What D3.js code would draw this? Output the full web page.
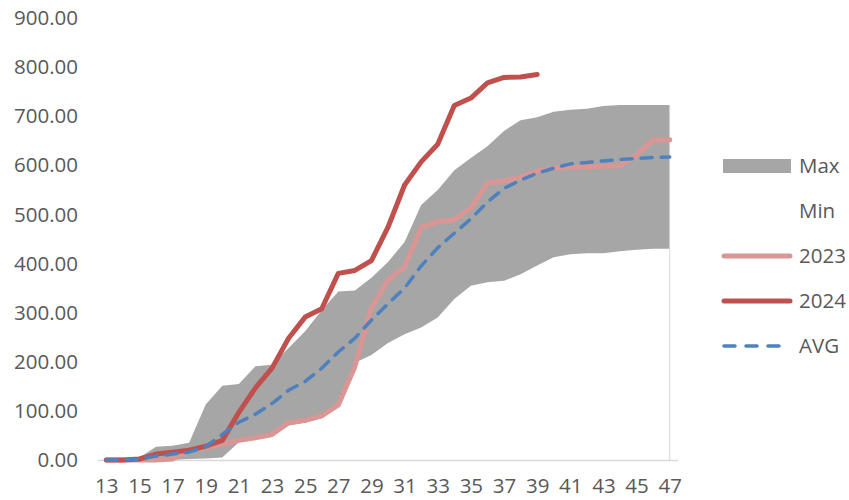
<!DOCTYPE html>
<html>
<head>
<meta charset="utf-8">
<script src="https://cdn.jsdelivr.net/npm/d3@7"></script>
<style>
  html, body { margin: 0; padding: 0; background: #fff; }
  svg { display: block; }
  text { font-family: "Open Sans", "Liberation Sans", sans-serif; fill: #595959; }
</style>
</head>
<body>
<svg id="chart" width="849" height="500"></svg>
<script>
// Weekly cumulative values, weeks 13–47
const weeks = d3.range(13, 48);

const maxValues = [0, 0, 5, 27, 29, 35, 113, 151, 155, 191, 194, 228, 262, 305, 343, 345, 371, 403, 444, 519, 550, 590, 615, 639, 670, 692, 698, 709, 713, 715, 721, 723, 723, 723, 723];
const minValues = [0, 0, 0, 0, 0, 2, 3, 5, 36, 42, 48, 70, 76, 85, 108, 198, 214, 238, 256, 270, 290, 328, 355, 362, 365, 378, 396, 413, 419, 421, 421, 425, 428, 430, 430];
const values2023 = [0, 0, 0, 0, 2, 20, 25, 32, 40, 45, 52, 76, 81, 90, 112, 190, 310, 366, 393, 474, 485, 489, 513, 564, 568, 576, 588, 594, 596, 597, 598, 599, 621, 652, 652];
const values2024 = [0, 0, 2, 12, 16, 20, 28, 40, 97, 147, 187, 248, 291, 308, 380, 386, 406, 474, 560, 607, 643, 722, 737, 768, 779, 780, 785];
const avgValues = [0, 0, 2, 8, 12, 16, 27, 52, 77, 93, 115, 142, 160, 187, 220, 248, 285, 318, 350, 395, 432, 462, 491, 525, 553, 570, 584, 594, 603, 606, 609, 612, 614, 616, 617];

const yTicks = [0, 100, 200, 300, 400, 500, 600, 700, 800, 900];
const xTickWeeks = weeks.filter(w => (w - 13) % 2 === 0);

const svg = d3.select("#chart");

const x = d3.scalePoint().domain(weeks).range([98, 678]).padding(0.5);
const y = d3.scaleLinear().domain([0, 900]).range([460, 18]);

// Min–Max envelope
const band = weeks.map((w, i) => ({ w, lo: minValues[i], hi: maxValues[i] }));
svg.append("path")
  .datum(band)
  .attr("fill", "#a6a6a6")
  .attr("d", d3.area().x(d => x(d.w)).y0(d => y(d.lo)).y1(d => y(d.hi)));

// Right edge marker of the envelope
const lastW = weeks[weeks.length - 1];
svg.append("line")
  .attr("x1", x(lastW)).attr("x2", x(lastW))
  .attr("y1", y(maxValues[maxValues.length - 1])).attr("y2", y(0))
  .attr("stroke", "#d9d9d9").attr("stroke-width", 1);

// Category axis line
svg.append("line")
  .attr("x1", 98).attr("x2", 678)
  .attr("y1", y(0) + 0.5).attr("y2", y(0) + 0.5)
  .attr("stroke", "#d9d9d9").attr("stroke-width", 1.5);

const line = d3.line().x(d => x(d.w)).y(d => y(d.v));
const toPts = arr => arr.map((v, i) => ({ w: weeks[i], v }));

svg.append("path")
  .datum(toPts(values2023))
  .attr("fill", "none")
  .attr("stroke", "#d99694")
  .attr("stroke-width", 5)
  .attr("stroke-linejoin", "round")
  .attr("stroke-linecap", "round")
  .attr("d", line);

svg.append("path")
  .datum(toPts(values2024))
  .attr("fill", "none")
  .attr("stroke", "#c0504d")
  .attr("stroke-width", 5)
  .attr("stroke-linejoin", "round")
  .attr("stroke-linecap", "round")
  .attr("d", line);

svg.append("path")
  .datum(toPts(avgValues))
  .attr("fill", "none")
  .attr("stroke", "#4f81bd")
  .attr("stroke-width", 3.5)
  .attr("stroke-dasharray", "11 9")
  .attr("stroke-linecap", "round")
  .attr("d", line);

const fontStack = '"Open Sans", "Liberation Sans", sans-serif';

// Y axis labels
const yAxis = d3.axisLeft(y).tickValues(yTicks).tickFormat(d3.format(".2f")).tickSize(0).tickPadding(0);
const yg = svg.append("g").attr("transform", "translate(78,0)").call(yAxis);
yg.select(".domain").remove();
yg.selectAll("text").attr("font-size", 20.5).attr("fill", "#595959")
  .style("font-family", fontStack);

// X axis labels
const xAxis = d3.axisBottom(x).tickValues(xTickWeeks).tickSize(0).tickPadding(0);
const xg = svg.append("g").attr("transform", "translate(0,478)").call(xAxis);
xg.select(".domain").remove();
xg.selectAll("text").attr("font-size", 20.5).attr("fill", "#595959")
  .style("font-family", fontStack);

// Legend
const legendItems = [
  { label: "Max", kind: "rect" },
  { label: "Min", kind: "none" },
  { label: "2023", kind: "line", color: "#d99694", width: 5 },
  { label: "2024", kind: "line", color: "#c0504d", width: 5 },
  { label: "AVG", kind: "dash", color: "#4f81bd", width: 3.5 }
];
const lg = svg.append("g").attr("transform", "translate(722,166)");
legendItems.forEach((d, i) => {
  const g = lg.append("g").attr("transform", `translate(0,${i * 45})`);
  if (d.kind === "rect") {
    g.append("rect").attr("x", 1).attr("y", -7).attr("width", 68).attr("height", 14).attr("fill", "#a6a6a6");
  } else if (d.kind === "line") {
    g.append("line").attr("x1", 2).attr("x2", 68).attr("y1", 0).attr("y2", 0)
      .attr("stroke", d.color).attr("stroke-width", d.width).attr("stroke-linecap", "round");
  } else if (d.kind === "dash") {
    g.append("line").attr("x1", 2).attr("x2", 68).attr("y1", 0).attr("y2", 0)
      .attr("stroke", d.color).attr("stroke-width", d.width).attr("stroke-dasharray", "11 11")
      .attr("stroke-linecap", "round");
  }
  g.append("text").attr("x", 77).attr("y", 0).attr("dy", "0.35em")
    .attr("font-size", 20.5).text(d.label);
});
</script>
</body>
</html>
